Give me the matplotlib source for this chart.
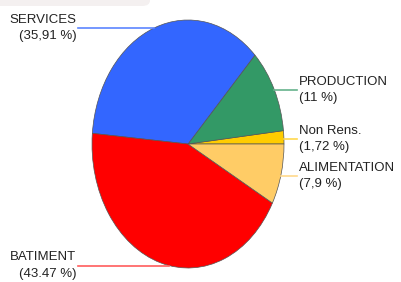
import numpy as np
import matplotlib.pyplot as plt
from matplotlib.patches import FancyBboxPatch

plt.rcParams['font.family'] = ['Liberation Sans', 'DejaVu Sans']

# data, counter-clockwise from 3 o'clock
categories = ["Non Rens.", "PRODUCTION", "SERVICES", "BATIMENT", "ALIMENTATION"]
values = [1.72, 11, 35.91, 43.47, 7.9]
value_labels = ["(1,72 %)", "(11 %)", "(35,91 %)", "(43.47 %)", "(7,9 %)"]
colors = ["#FFCC00", "#339966", "#3366FF", "#FF0000", "#FFCC66"]
line_colors = ["#FFD84D", "#66B38C", "#5C85FF", "#FF5C5C", "#FFD98C"]

# label placement: side and height (axes data units) of the leader line
label_side = ["right", "right", "left", "left", "right"]
label_y = [0.04, 0.435, 0.935, -0.98, -0.26]

W, H = 401, 282
fig = plt.figure(figsize=(W / 100, H / 100), dpi=100)

# faint band at the top of the page
fig.patches.append(FancyBboxPatch((-10 / W, 276 / H), 160 / W, 20 / H,
                                  boxstyle="round,pad=0,rounding_size=0.02",
                                  transform=fig.transFigure, fc="#F4F0F0",
                                  ec="none", zorder=0))

# pie is drawn as an ellipse: 192 px wide, 248 px tall
ax = fig.add_axes([92 / W, 14 / H, 192 / W, 248 / H])
ax.pie(values, colors=colors, startangle=0, counterclock=True,
       wedgeprops=dict(edgecolor="#555555", linewidth=0.5))
ax.set_aspect("auto")
ax.set_xlim(-1, 1)
ax.set_ylim(-1, 1)
ax.axis("off")

for name, val, side, y, lc in zip(categories, value_labels, label_side,
                                  label_y, line_colors):
    xe = np.sqrt(max(0.0, 1 - y ** 2))
    if side == "right":
        ax.plot([xe, 1.135], [y, y], color=lc, lw=1.2, clip_on=False)
        ax.text(1.16, y, name + "\n" + val, ha="left", va="center",
                fontsize=9.5, linespacing=1.5, color="#222222")
    else:
        ax.plot([-xe, -1.145], [y, y], color=lc, lw=1.2, clip_on=False)
        ax.text(-1.165, y, name + "\n" + val, ha="right", va="center",
                multialignment="right", fontsize=9.5, linespacing=1.5,
                color="#222222")

fig.savefig("out.png", dpi=100)
